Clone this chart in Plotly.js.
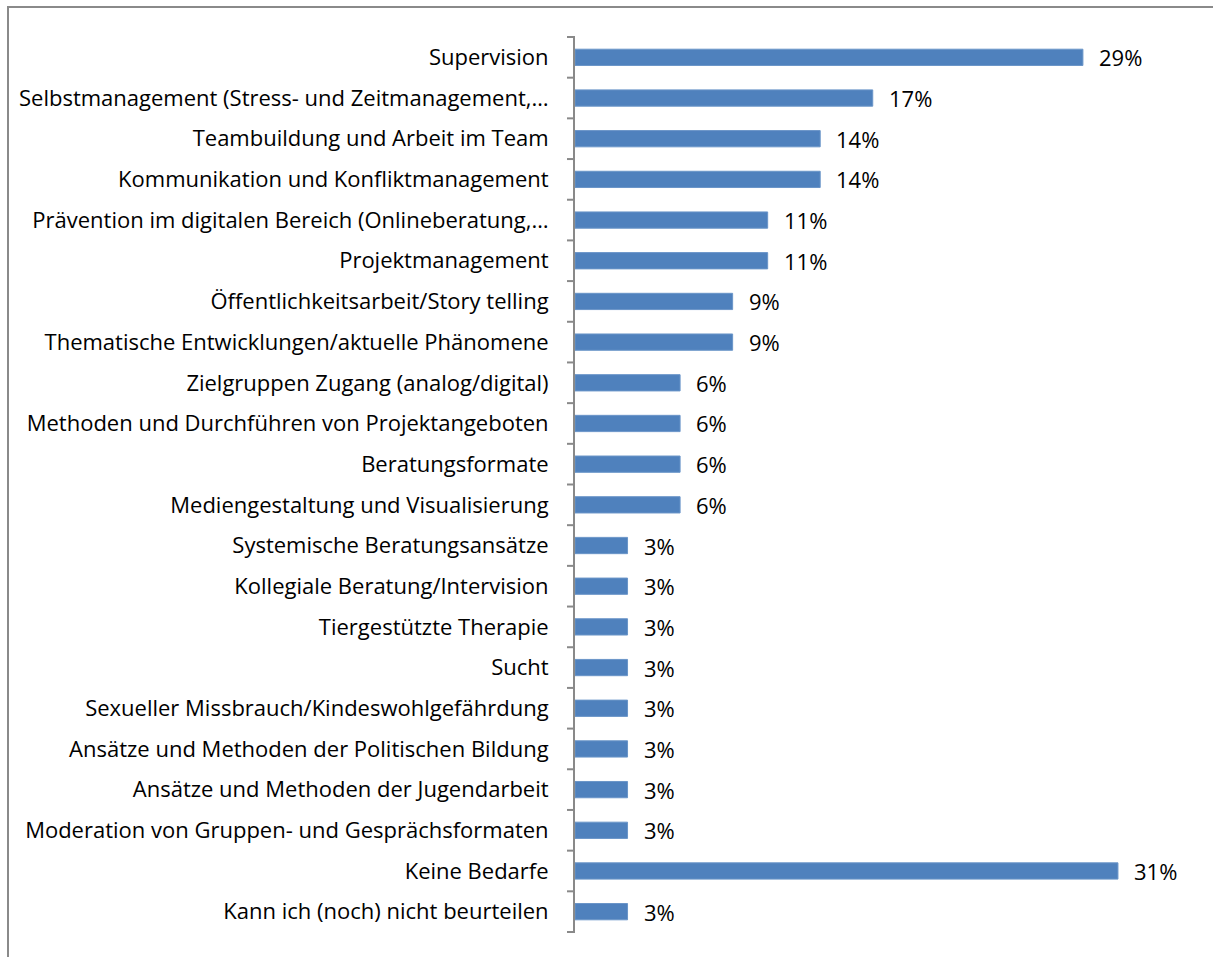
<!DOCTYPE html>
<html>
<head>
<meta charset="utf-8">
<script src="https://cdn.plot.ly/plotly-3.0.1.min.js"></script>
<style>
html,body{margin:0;padding:0;background:#fff;}
#chart{width:1213px;height:957px;}
</style>
</head>
<body>
<div id="chart"></div>
<script>
const categories = [
  "Supervision",
  "Selbstmanagement (Stress- und Zeitmanagement,…",
  "Teambuildung und Arbeit im Team",
  "Kommunikation und Konfliktmanagement",
  "Prävention im digitalen Bereich (Onlineberatung,…",
  "Projektmanagement",
  "Öffentlichkeitsarbeit/Story telling",
  "Thematische Entwicklungen/aktuelle Phänomene",
  "Zielgruppen Zugang (analog/digital)",
  "Methoden und Durchführen von Projektangeboten",
  "Beratungsformate",
  "Mediengestaltung und Visualisierung",
  "Systemische Beratungsansätze",
  "Kollegiale Beratung/Intervision",
  "Tiergestützte Therapie",
  "Sucht",
  "Sexueller Missbrauch/Kindeswohlgefährdung",
  "Ansätze und Methoden der Politischen Bildung",
  "Ansätze und Methoden der Jugendarbeit",
  "Moderation von Gruppen- und Gesprächsformaten",
  "Keine Bedarfe",
  "Kann ich (noch) nicht beurteilen"
];
const values = [29, 17, 14, 14, 11, 11, 9, 9, 6, 6, 6, 6, 3, 3, 3, 3, 3, 3, 3, 3, 31, 3];
const valueLabels = values.map(v => v + "%");

const FONT = "'Open Sans', sans-serif";
const FS = 22;
const AXIS_COLOR = "#898989";

const trace = {
  type: "bar",
  orientation: "h",
  x: values,
  y: categories,
  marker: {color: "#4F81BD", line: {color: "#6A95C8", width: 1}},
  hoverinfo: "none"
};

const annotations = values.map((v, i) => ({
  x: v, y: categories[i], xref: "x", yref: "y",
  text: valueLabels[i], showarrow: false,
  xanchor: "left", yanchor: "middle", xshift: 14,
  font: {family: FONT, size: FS, color: "#000"}
}));

// plot area: x 575..1188, y 36..933
const W = 1188 - 575, H = 933 - 36;
const shapes = [{
  type: "rect", xref: "paper", yref: "paper",
  x0: (8 - 575) / W, x1: 2,
  y0: -1, y1: (933 - 7) / H,
  line: {color: "#8A8A8A", width: 2}, fillcolor: "rgba(0,0,0,0)", layer: "below"
}];
// category boundary tick marks on the y axis
for (let i = 0; i <= categories.length; i++) {
  shapes.push({
    type: "line", xref: "paper", yref: "y",
    x0: -8 / W, x1: 0, y0: i - 0.5, y1: i - 0.5,
    line: {color: AXIS_COLOR, width: 2}, layer: "above"
  });
}

const layout = {
  width: 1213, height: 957,
  margin: {l: 575, r: 1213 - 1188, t: 36, b: 957 - 933, pad: 0},
  paper_bgcolor: "#fff", plot_bgcolor: "#fff",
  showlegend: false,
  bargap: 0.6,
  xaxis: {range: [0, 35], visible: false, fixedrange: true},
  yaxis: {
    type: "category",
    autorange: "reversed",
    showline: true, linecolor: AXIS_COLOR, linewidth: 2,
    ticks: "",
    showgrid: false, zeroline: false,
    ticklabelstandoff: 20,
    tickfont: {family: FONT, size: FS, color: "#000"}
  },
  annotations: annotations,
  shapes: shapes,
  font: {family: FONT, size: FS, color: "#000"}
};

Plotly.newPlot("chart", [trace], layout, {displayModeBar: false, staticPlot: true});
</script>
</body>
</html>
